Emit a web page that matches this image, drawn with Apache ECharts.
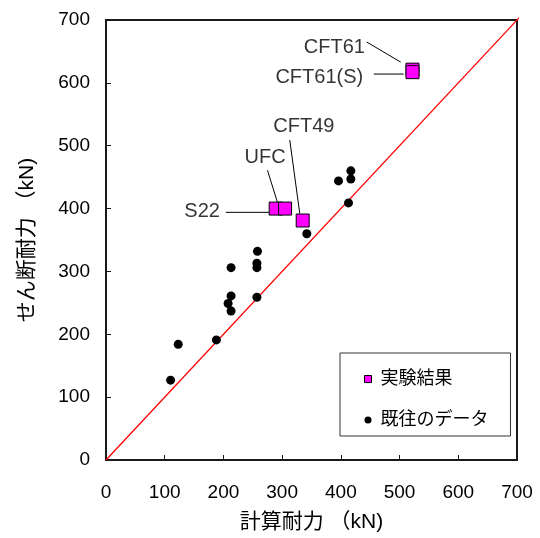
<!DOCTYPE html>
<html>
<head>
<meta charset="utf-8">
<script src="https://cdn.jsdelivr.net/npm/echarts@6/dist/echarts.min.js"></script>
<style>html,body{margin:0;padding:0;background:#fff;}#c{width:540px;height:538px;}</style>
</head>
<body>
<div id="c"></div>
<script>
// Experimental results (calculated capacity, shear capacity) [kN]
const expNames = ['S22', 'UFC', 'CFT49', 'CFT61', 'CFT61(S)'];
const expX = [289, 305, 335, 522, 522];
const expY = [400, 400, 381, 621, 617];

// Previous data
const prevX = [110, 123, 188, 208, 213, 213, 213, 257, 257, 257, 258, 342, 396, 413, 417, 417];
const prevY = [127, 184, 191, 249, 237, 261, 306, 259, 306, 313, 332, 360, 444, 409, 447, 460];

// Reference line y = x
const refLine = [[0, 0], [715, 715]];

// Annotation labels: text, anchor (data coords), leader start, leader end
const annText   = ['CFT61', 'CFT61(S)', 'CFT49', 'UFC', 'S22'];
const annAnchor = [[441, 657], [438, 609], [337, 530], [271, 481], [194, 395]];
const annFrom   = [[444, 665], [456, 614], [313, 509], [275, 461], [204, 394]];
const annTo     = [[502, 633], [507, 614], [330, 392], [292, 410], [278, 394]];
const annAlign  = ['right', 'right', 'center', 'center', 'right'];

const ticks = [0, 100, 200, 300, 400, 500, 600, 700];

const FONT = "'Liberation Sans', 'Noto Sans CJK JP', sans-serif";
const chart = echarts.init(document.getElementById('c'));

const series = [];
series.push({
  type: 'line', data: refLine, symbol: 'none', clip: false, silent: true,
  lineStyle: { color: '#ff0000', width: 1.3 }, z: 1, legendHoverLink: false
});
annText.forEach((t, i) => {
  series.push({
    type: 'line', data: [annFrom[i], annTo[i]], symbol: 'none', silent: true,
    lineStyle: { color: '#000', width: 1 }, z: 2
  });
});
series.push({
  name: '既往のデータ', type: 'scatter', symbol: 'circle', symbolSize: 9,
  data: prevX.map((x, i) => [x, prevY[i]]),
  itemStyle: { color: '#000', opacity: 1 }, z: 3
});
series.push({
  name: '実験結果', type: 'scatter', symbol: 'rect', symbolSize: 13,
  data: expX.map((x, i) => ({ name: expNames[i], value: [x, expY[i]] })),
  itemStyle: { color: '#ff00ff', borderColor: '#000', borderWidth: 1, opacity: 1 }, z: 4
});
series.push({
  type: 'scatter', symbolSize: 0, silent: true, z: 5,
  data: annText.map((t, i) => ({
    value: annAnchor[i],
    label: { show: true, position: 'inside', formatter: t, align: annAlign[i],
             verticalAlign: 'middle', color: '#000', fontSize: 20, fontFamily: FONT }
  }))
});

chart.setOption({
  animation: false,
  backgroundColor: '#fff',
  grid: { left: 106, right: 23, top: 20, bottom: 77, show: true, borderColor: '#1a1a1a', borderWidth: 2, backgroundColor: 'transparent' },
  legend: {
    data: [
      { name: '実験結果', icon: 'rect', itemStyle: { color: '#ff00ff', borderColor: '#000', borderWidth: 1, opacity: 1 } },
      { name: '既往のデータ', icon: 'circle', itemStyle: { color: '#000', opacity: 1 } }
    ],
    orient: 'vertical', left: 340, top: 353,
    padding: [17, 22, 7, 24],
    itemGap: 23, itemWidth: 7, itemHeight: 7,
    borderColor: '#333', borderWidth: 1, backgroundColor: '#fff',
    textStyle: { fontSize: 18, color: '#000', fontFamily: FONT, padding: [0, 0, 0, 4] },
    selectedMode: false
  },
  xAxis: {
    type: 'value', min: 0, max: 700, interval: 100,
    name: '計算耐力 （kN)', nameLocation: 'middle', nameGap: 52,
    nameTextStyle: { fontSize: 21, color: '#000', fontFamily: FONT },
    axisLine: { show: true, lineStyle: { color: '#1a1a1a', width: 2 } },
    axisTick: { show: true, inside: true, length: 5, lineStyle: { color: '#1a1a1a', width: 1 } },
    axisLabel: { margin: 23, fontSize: 19, color: '#000', fontFamily: FONT },
    splitLine: { show: false }
  },
  yAxis: {
    type: 'value', min: 0, max: 700, interval: 100,
    name: 'せん断耐力 （kN)', nameLocation: 'middle', nameGap: 68,
    nameTextStyle: { fontSize: 21, color: '#000', fontFamily: FONT },
    axisLine: { show: true, lineStyle: { color: '#1a1a1a', width: 2 } },
    axisTick: { show: true, inside: true, length: 5, lineStyle: { color: '#1a1a1a', width: 1 } },
    axisLabel: { margin: 16, fontSize: 19, color: '#000', fontFamily: FONT },
    splitLine: { show: false }
  },
  series: series
});
</script>
</body>
</html>
